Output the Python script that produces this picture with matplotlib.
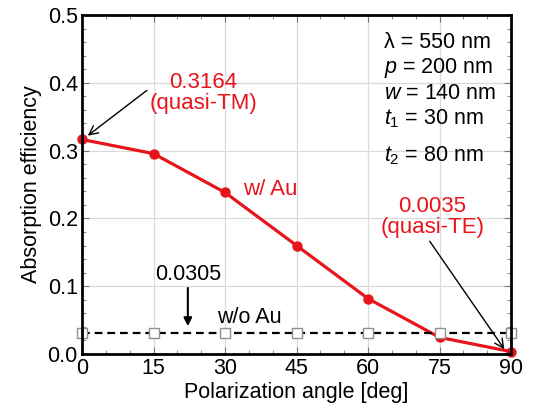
import numpy as np
import matplotlib.pyplot as plt

plt.rcParams['font.family'] = ['Liberation Sans', 'DejaVu Sans']
plt.rcParams['mathtext.fontset'] = 'custom'
plt.rcParams['mathtext.rm'] = 'Liberation Sans'
plt.rcParams['mathtext.it'] = 'Liberation Sans:italic'

# data
angle = [0, 15, 30, 45, 60, 75, 90]
eff_au = [0.3164, 0.2955, 0.2382, 0.1600, 0.0817, 0.0245, 0.0035]
eff_noau = [0.0305] * 7

RED = '#e8141b'
FS = 15.5

fig = plt.figure(figsize=(5.34, 4.12), dpi=100)
ax = fig.add_axes([0.1536, 0.1408, 0.8034, 0.8228])

ax.plot(angle, eff_au, '-', color=RED, lw=2.3, marker='o', ms=6.5,
        mec=RED, mfc=RED, zorder=3, clip_on=False)
ax.plot(angle, eff_noau, '--', color='black', lw=1.6, dashes=(3.5, 2.2),
        marker='s', ms=7.5, mfc='white', mec='#909090', mew=1.0, zorder=4,
        clip_on=False)

ax.set_xlim(0, 90)
ax.set_ylim(0, 0.5)
ax.set_xticks(np.arange(0, 91, 15))
ax.set_xticks(np.arange(0, 91, 5), minor=True)
ax.set_yticks(np.arange(0, 0.51, 0.1))
ax.set_yticks(np.arange(0, 0.51, 0.02), minor=True)
ax.set_yticklabels(['0.0', '0.1', '0.2', '0.3', '0.4', '0.5'])
ax.grid(True, which='major', color='#dadada', lw=0.9, zorder=0)
ax.tick_params(which='both', direction='in', top=True, right=True,
               labelsize=FS, color='#777777')
ax.tick_params(which='major', length=5, width=0.8, pad=3)
ax.tick_params(which='minor', length=3, width=0.6)
for s in ax.spines.values():
    s.set_linewidth(2.0)
    s.set_zorder(5)

ax.set_xlabel('Polarization angle [deg]', fontsize=FS, labelpad=2)
ax.set_ylabel('Absorption efficiency', fontsize=FS, labelpad=4)

# annotations
ax.annotate('0.3164\n(quasi-TM)', xy=(1.2, 0.322), xytext=(25.5, 0.385),
            color=RED, fontsize=16, ha='center', va='center',
            linespacing=1.05,
            arrowprops=dict(arrowstyle='->', color='black', lw=1.0,
                            shrinkA=0, shrinkB=0,
                            relpos=(0.02, 0.65)))
ax.text(39.5, 0.243, 'w/ Au', color=RED, fontsize=16, ha='center',
        va='center')
ax.annotate('0.0035\n(quasi-TE)', xy=(88.6, 0.007), xytext=(73.5, 0.202),
            color=RED, fontsize=16, ha='center', va='center',
            linespacing=1.05,
            arrowprops=dict(arrowstyle='->', color='black', lw=1.0,
                            shrinkA=0, shrinkB=0,
                            relpos=(0.45, 0.02)))
ax.annotate('0.0305', xy=(22.2, 0.041), xytext=(22.2, 0.117),
            color='black', fontsize=FS, ha='center', va='center',
            arrowprops=dict(arrowstyle='-|>', color='black', lw=1.5,
                            mutation_scale=12, shrinkA=0, shrinkB=0))
ax.text(35.0, 0.054, 'w/o Au', color='black', fontsize=FS, ha='center',
        va='center')

params = [r'λ = 550 nm', r'$\it{p}$ = 200 nm', r'$\it{w}$ = 140 nm',
          r'$\it{t}_{1}$ = 30 nm', r'$\it{t}_{2}$ = 80 nm']
ys = [0.459, 0.422, 0.384, 0.347, 0.293]
for t, yy in zip(params, ys):
    ax.text(63.4, yy, t, fontsize=FS, ha='left', va='center')

fig.savefig('out.png', dpi=100)
